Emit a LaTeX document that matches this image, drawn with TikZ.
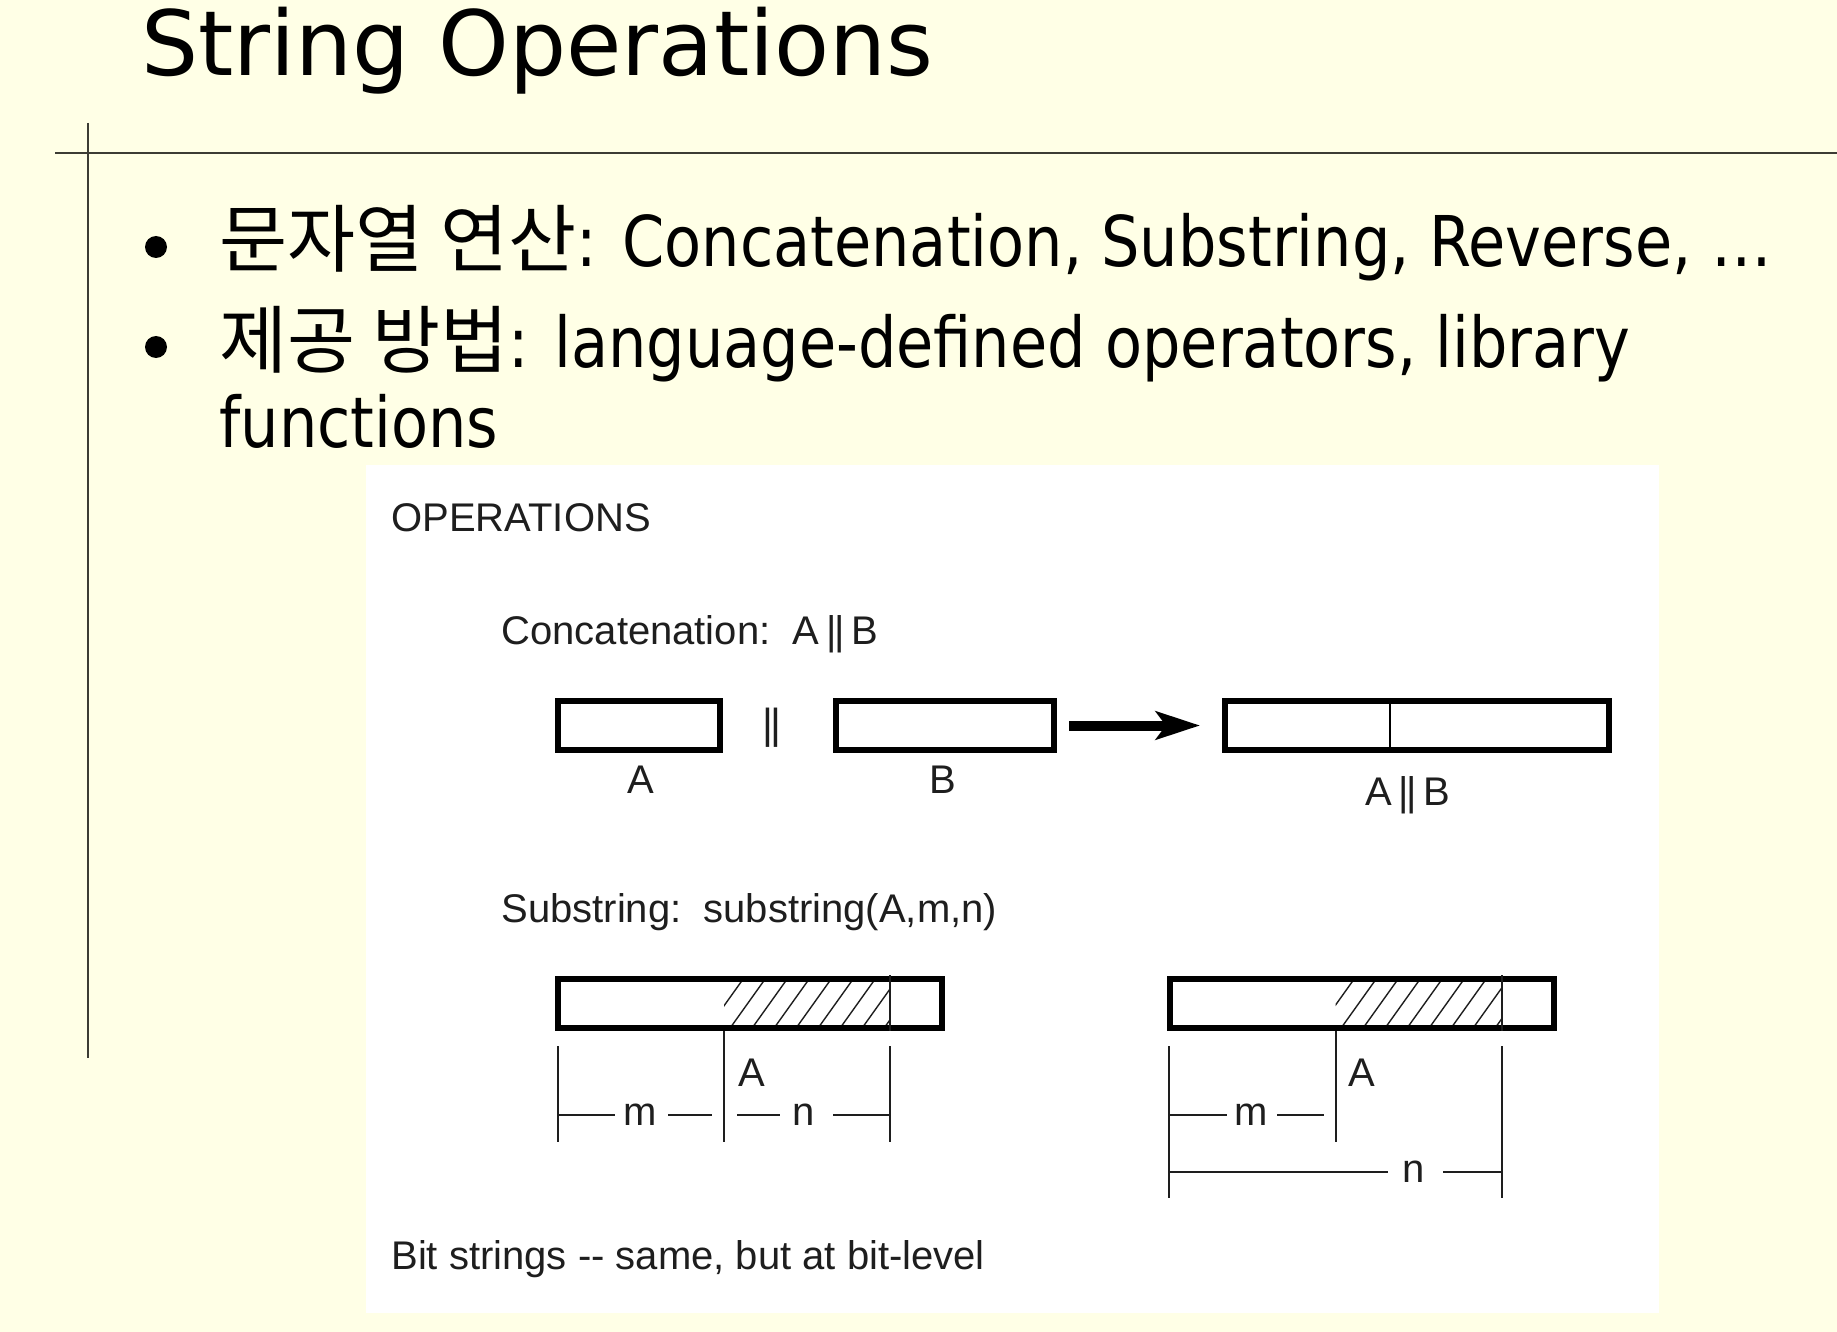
\documentclass[tikz,border=0pt]{standalone}
\usepackage{fontspec}
\setmainfont{DejaVu Sans}
\newfontfamily\slidefont[FakeStretch=0.865]{DejaVu Sans}
\newfontfamily\korfont{Noto Sans CJK KR}
\newfontfamily\figfont{Liberation Sans}
\usetikzlibrary{arrows.meta}
\usetikzlibrary{positioning}
\definecolor{slidebg}{RGB}{255,255,230}
\definecolor{ruleink}{RGB}{60,60,52}
\definecolor{figink}{RGB}{30,30,30}
\newcommand{\kor}[1]{{\korfont\fontsize{37}{42}\selectfont #1}}

\begin{document}
\begin{tikzpicture}[x=0.5pt,y=-0.5pt,>=Stealth,
    titletext/.style={font=\fontsize{45}{54}\selectfont,inner sep=0pt,anchor=base west},
    bullettext/.style={font=\slidefont\fontsize{35}{42}\selectfont,inner sep=0pt,anchor=base west},
    bulletdot/.style={circle,fill=black,inner sep=0pt,minimum size=11pt},
    figtext/.style={font=\figfont\fontsize{20}{24}\selectfont,text=figink,inner sep=0pt},
    strbox/.style={draw=black,line width=3pt,minimum height=24.5pt,inner sep=0pt},
    dimline/.style={draw=figink,line width=0.9pt},
    hatchline/.style={draw=figink,line width=0.7pt}]

    \fill[slidebg] (0,0) rectangle (1837,1332);
    \useasboundingbox (0,0) rectangle (1837,1332);

    \node[titletext] (title) at (141,76) {String Operations};
    \draw[ruleink,line width=1pt] (55,153.5) -- (1837,153.5);
    \draw[ruleink,line width=1pt] (88,123) -- (88,1058);

    \node[bulletdot] (dot1) at (156,247) {};
    \node[bullettext] (item1) at (219,267) {\kor{문자열 연산}: Concatenation, Substring, Reverse, …};
    \node[bulletdot] (dot2) at (156,347) {};
    \node[bullettext] (item2) at (219,367) {\kor{제공 방법}: language-defined operators, library};
    \node[bullettext] (item2b) at (219,447.5) {functions};

    \fill[white] (365.5,465) rectangle (1659,1313);

    \node[figtext,anchor=base west] (ops) at (391,531) {OPERATIONS};

    % concatenation
    \node[figtext,anchor=base west] (cathead) at (501,644) {Concatenation:\ \ A\,|\kern-1.2pt|\,B};
    \node[strbox,minimum width=81pt] (boxA) at (639,725.5) {};
    \node[strbox,minimum width=109pt] (boxB) at (945,725.5) {};
    \node[strbox,minimum width=192pt] (boxAB) at (1417,725.5) {};
    \draw[line width=1pt] (1389.5,698 |- boxAB.north) -- (1389.5,753 |- boxAB.south);
    \node[figtext,font=\figfont\fontsize{21}{24}\selectfont] (bars) at (772,727.5) {|\kern-1.2pt|};
    \node[figtext] (labA) at (641,780) {A};
    \node[figtext] (labB) at (943,780) {B};
    \node[figtext] (labAB) at (1408,795) {A\,|\kern-1.2pt|\,B};
    \draw[-{Stealth[length=22pt,width=14pt,inset=5pt]},line width=5pt,shorten <=6pt,shorten >=11pt] (boxB) -- (boxAB);

    % substring
    \node[figtext,anchor=base west] (subhead) at (501,922) {Substring:\ \ substring(A,m,n)};
    \begin{scope}
        \clip (724,977) rectangle (890,1029);
        \foreach \x in {684,706,...,900}
            \draw[hatchline] (\x,1031) -- (\x+40,975);
    \end{scope}
    \begin{scope}
        \clip (1335.5,977) rectangle (1502,1029);
        \foreach \x in {1295,1317,...,1510}
            \draw[hatchline] (\x,1031) -- (\x+40,975);
    \end{scope}
    \node[strbox,minimum width=192pt] (subL) at (750.25,1003) {};
    \node[strbox,minimum width=192pt] (subR) at (1361.5,1003) {};
    \draw[dimline] (890,975) -- (890,1031);
    \draw[dimline] (1502,975) -- (1502,1031);

    \draw[dimline] (557.7,1046) -- (557.7,1142);
    \draw[dimline] (724,1031) -- (724,1142);
    \draw[dimline] (890,1046) -- (890,1142);
    \node[figtext] (AL) at (752,1073) {A};
    \node[figtext] (mL) at (640,1115) {m};
    \node[figtext] (nL) at (803.5,1115) {n};
    \draw[dimline] (557.7,1115) -- (615,1115);
    \draw[dimline] (668,1115) -- (712,1115);
    \draw[dimline] (737,1115) -- (780,1115);
    \draw[dimline] (833,1115) -- (890,1115);

    \draw[dimline] (1169,1046) -- (1169,1198);
    \draw[dimline] (1335.6,1031) -- (1335.6,1142);
    \draw[dimline] (1502,1046) -- (1502,1198);
    \node[figtext] (AR) at (1362,1073) {A};
    \node[figtext] (mR) at (1251,1115) {m};
    \node[figtext] (nR) at (1414,1171.6) {n};
    \draw[dimline] (1169,1115) -- (1227,1115);
    \draw[dimline] (1277,1115) -- (1324,1115);
    \draw[dimline] (1169,1171.6) -- (1388,1171.6);
    \draw[dimline] (1443,1171.6) -- (1502,1171.6);

    \node[figtext,anchor=base west] (bits) at (391,1269) {Bit strings -{}- same, but at bit-level};

\end{tikzpicture}
\end{document}
